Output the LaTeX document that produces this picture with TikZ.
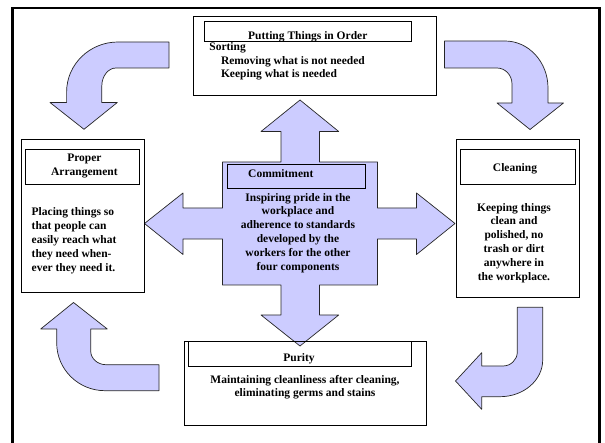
\documentclass[tikz,border=0pt]{standalone}
\usepackage{fontspec}
\setmainfont{Liberation Serif}
\definecolor{lav}{HTML}{CCCCFF}
\begin{document}
\begin{tikzpicture}[x=1pt,y=-1pt,
  every node/.style={font=\bfseries\fontsize{11.5}{13.8}\selectfont, inner sep=0pt, outer sep=0pt},
  rbox/.style={draw, line width=0.8pt, inner sep=0pt, outer sep=0pt},
  blk/.style={fill=lav, draw=black!85, line width=0.7pt, line join=round},
  frame/.style={draw=black, line width=2.4pt, line join=miter},
]
\useasboundingbox (0,0) rectangle (605,443);
% outer frame
\coordinate (fbl) at (12.5,443);
\coordinate (ftl) at (12.5,8.3);
\coordinate (ftr) at (599.5,8.3);
\coordinate (fbr) at (599.5,443);
\draw[frame] (fbl) -- (ftl) -- (ftr) -- (fbr);

% curved arrows
\draw[blk] (169,42) -- (169,68) -- (116,68) .. controls (108.2,68) and (101.8,76.1) .. (101.8,86) -- (101.8,102.5) -- (117.3,102.5) -- (84,129.3) -- (50,102.5) -- (66.6,102.5) -- (66.6,92) .. controls (66.6,64.4) and (89.6,42) .. (118,42) -- cycle;
\draw[blk] (444.5,41) -- (505,41) .. controls (528.7,41) and (548,62) .. (548,88) -- (548,103) -- (563.5,103) -- (530,129.5) -- (497,103) -- (512,103) -- (512,84) .. controls (512,75.2) and (505.3,68) .. (497,68) -- (444.5,68) -- cycle;
\draw[blk] (159,364.7) -- (159,390.7) -- (105,390.7) .. controls (78.3,390.7) and (56.7,369.3) .. (56.7,343) -- (56.7,329) -- (40.7,329) -- (73.5,302.5) -- (107.3,329) -- (90.7,329) -- (90.7,351) .. controls (90.7,358.6) and (97.6,364.7) .. (106,364.7) -- cycle;
\draw[blk] (517.3,307.3) -- (542.7,307.3) -- (542.7,360) .. controls (542.7,380.3) and (523.6,396.7) .. (500,396.7) -- (481.7,396.7) -- (481.7,409.3) -- (455.5,381) -- (481.7,352.7) -- (481.7,366) -- (503,366) .. controls (510.9,366) and (517.3,359.7) .. (517.3,352) -- cycle;

% central cross
\draw[blk] (300,100) -- (338.7,131.5) -- (319.5,131.5) -- (319.5,162) -- (377.5,162) -- (377.5,208) -- (416.5,208) -- (416.5,193) -- (455,223.5) -- (416.5,254.5) -- (416.5,239) -- (377.5,239) -- (377.5,285) -- (319.5,285) -- (319.5,315) -- (338.7,315) -- (300,346) -- (261,315) -- (281,315) -- (281,285) -- (222.5,285) -- (222.5,239) -- (183,239) -- (183,254.5) -- (144.5,223.5) -- (183,193) -- (183,208) -- (222.5,208) -- (222.5,162) -- (281,162) -- (281,131.5) -- (261,131.5) -- cycle;

% boxes
\node[rbox, minimum width=242.7pt, minimum height=78.6pt] (top) at (315,56) {};
\node[rbox, minimum width=207.5pt, minimum height=19.3pt] (thead) at (307.75,31.35) {};
\node[rbox, minimum width=123.9pt, minimum height=153pt] (left) at (82.85,215.8) {};
\node[rbox, minimum width=114.3pt, minimum height=34.7pt] (lhead) at (82.65,166.65) {};
\node[rbox, minimum width=123.6pt, minimum height=158pt] (right) at (517.8,218.3) {};
\node[rbox, minimum width=114.3pt, minimum height=34.7pt] (rhead) at (517.85,166.65) {};
\node[rbox, minimum width=242.4pt, minimum height=84.1pt] (bottom) at (305.1,383.75) {};
\node[rbox, minimum width=223pt, minimum height=24.3pt] (bhead) at (300,353.85) {};
\node[rbox, minimum width=138.3pt, minimum height=24.1pt] (chead) at (296.15,176.25) {};

% texts
\node[anchor=base] (tputt) at (307.8,39.8) {Putting Things in Order};
\node[anchor=base west] (tsort) at (209.4,50.5) {Sorting};
\node[anchor=base west] (trem) at (221,64.3) {Removing what is not needed};
\node[anchor=base west] (tkeep) at (221,78) {Keeping what is needed};
\node[align=center] (lhtxt) at (84.4,166.35) {Proper\\Arrangement};
\node[align=left, anchor=west] (lbody) at (31.7,240.85) {Placing things so\\that people can\\easily reach what\\they need when-\\ever they need it.};
\node[anchor=base] (rhtxt) at (515,172) {Cleaning};
\node[align=center] (rbody) at (514,242.85) {Keeping things\\clean and\\polished, no\\trash or dirt\\anywhere in\\the workplace.};
\node[anchor=base west] (chtxt) at (248.2,177.7) {Commitment};
\node[align=center] (cbody) at (298,232.85) {Inspiring pride in the\\workplace and\\adherence to standards\\developed by the\\workers for the other\\four components};
\node[anchor=base] (bhtxt) at (299,361.7) {Purity};
\node[align=center] (bbody) at (305,387.3) {Maintaining cleanliness after cleaning,\\eliminating germs and stains};
\end{tikzpicture}
\end{document}
